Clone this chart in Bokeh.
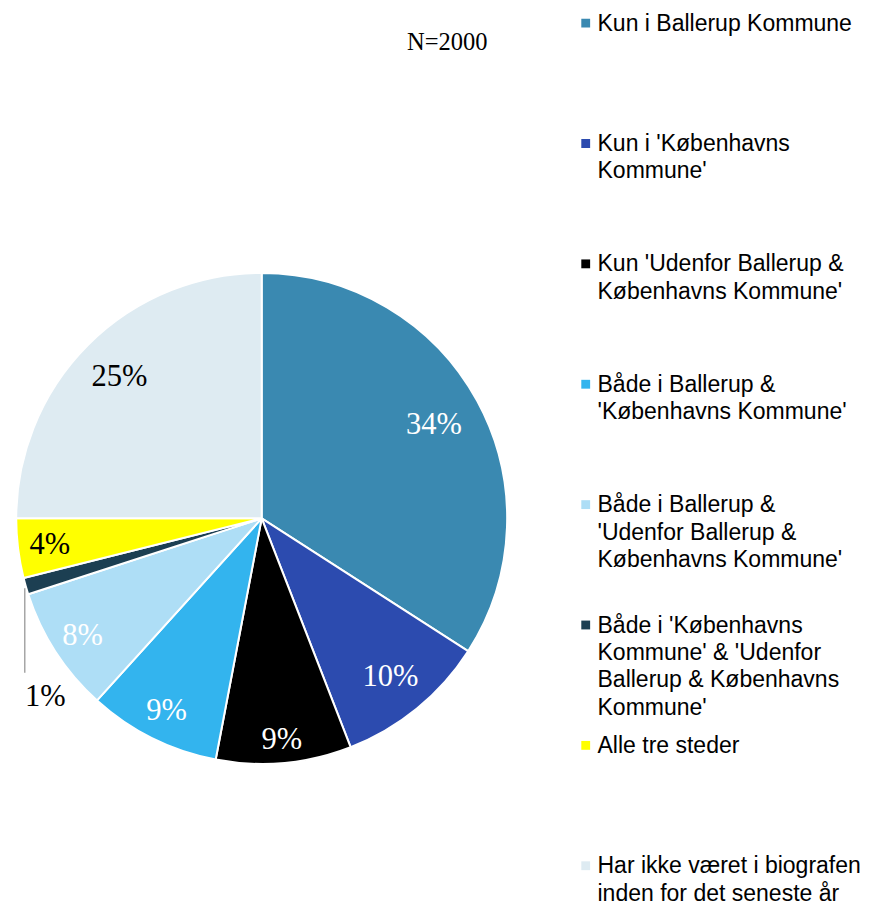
import math
from bokeh.plotting import figure
from bokeh.models import Range1d, ColumnDataSource
from bokeh.core.properties import value
from bokeh.embed import file_html
from bokeh.resources import INLINE

# ---- data ----
categories = [
    "Kun i Ballerup Kommune",
    "Kun i 'Københavns\nKommune'",
    "Kun 'Udenfor Ballerup &\nKøbenhavns Kommune'",
    "Både i Ballerup &\n'Københavns Kommune'",
    "Både i Ballerup &\n'Udenfor Ballerup &\nKøbenhavns Kommune'",
    "Både i 'Københavns\nKommune' & 'Udenfor\nBallerup & Københavns\nKommune'",
    "Alle tre steder",
    "Har ikke været i biografen\ninden for det seneste år",
]
shares = [34.1, 10.0, 8.9, 8.7, 8.3, 1.1, 3.9, 25.0]
pct_labels = ["34%", "10%", "9%", "9%", "8%", "1%", "4%", "25%"]
colors = ["#3A89B1", "#2C4BAF", "#000000", "#33B4EE", "#AEDEF6", "#1C3F52", "#FFFF00", "#DEEBF2"]
label_colors = ["white", "white", "white", "white", "white", "black", "black", "black"]
n_text = "N=2000"

# ---- layout (reference-pixel coordinates: data y = 924 - screen y) ----
W, H = 868, 908
def Y(sy):
    return 924 - sy

cx, cy, R = 266, Y(527), 250
label_r_frac = [0.80, 0.83, 0.90, 0.87, 0.87, None, 0.87, 0.82]

p = figure(width=W, height=H, x_range=Range1d(0, 884), y_range=Range1d(0, 924),
           output_backend="svg", toolbar_location=None, min_border=0,
           x_axis_location=None, y_axis_location=None)
p.grid.visible = False
p.outline_line_color = None
p.background_fill_color = "white"
p.border_fill_color = "white"

total = sum(shares)
starts, ends, mids = [], [], []
cum = 0.0
for s in shares:
    a0 = math.pi / 2 - 2 * math.pi * cum / total
    cum += s
    a1 = math.pi / 2 - 2 * math.pi * cum / total
    starts.append(a0)
    ends.append(a1)
    mids.append((a0 + a1) / 2)

src = ColumnDataSource(dict(start=starts, end=ends, color=colors))
p.wedge(x=cx, y=cy, radius=R, start_angle="start", end_angle="end", direction="clock",
        fill_color="color", line_color="white", line_width=2, source=src)

# inside labels
lx, ly, lt, lc = [], [], [], []
for i, m in enumerate(mids):
    f = label_r_frac[i]
    if f is None:
        continue
    lx.append(cx + f * R * math.cos(m))
    ly.append(cy + f * R * math.sin(m))
    lt.append(pct_labels[i])
    lc.append(label_colors[i])
p.text(x=lx, y=ly, text=lt, text_color=lc, text_font=value("Liberation Serif"),
       text_font_size="30.5px", text_align="center", text_baseline="middle")

# outside label for the small slice with leader line
i_small = 5
rx = cx + R * math.cos(mids[i_small])
ry = cy + R * math.sin(mids[i_small])
p.line(x=[rx - 1, rx - 1], y=[ry - 2, ry - 88], line_color="#A6A6A6", line_width=1.5)
p.text(x=[rx + 20], y=[ry - 112], text=[pct_labels[i_small]], text_color="black",
       text_font=value("Liberation Serif"), text_font_size="30.5px",
       text_align="center", text_baseline="middle")

# N text
p.text(x=[455], y=[Y(42)], text=[n_text], text_color="black",
       text_font=value("Liberation Serif"), text_font_size="24.5px",
       text_align="center", text_baseline="middle")

# legend
leg_y0, leg_step = 23, 122.5
mx, tx = 596, 608
for i, cat in enumerate(categories):
    yc = leg_y0 + i * leg_step
    p.rect(x=[mx], y=[Y(yc)], width=9, height=9, fill_color=colors[i], line_color=None)
    p.text(x=[tx], y=[Y(yc - 13.6)], text=[cat], text_color="black",
           text_font=value("Liberation Sans"), text_font_size="23px",
           text_align="left", text_baseline="top", text_line_height=1.05)

open("out.html", "w").write(file_html(p, INLINE))
